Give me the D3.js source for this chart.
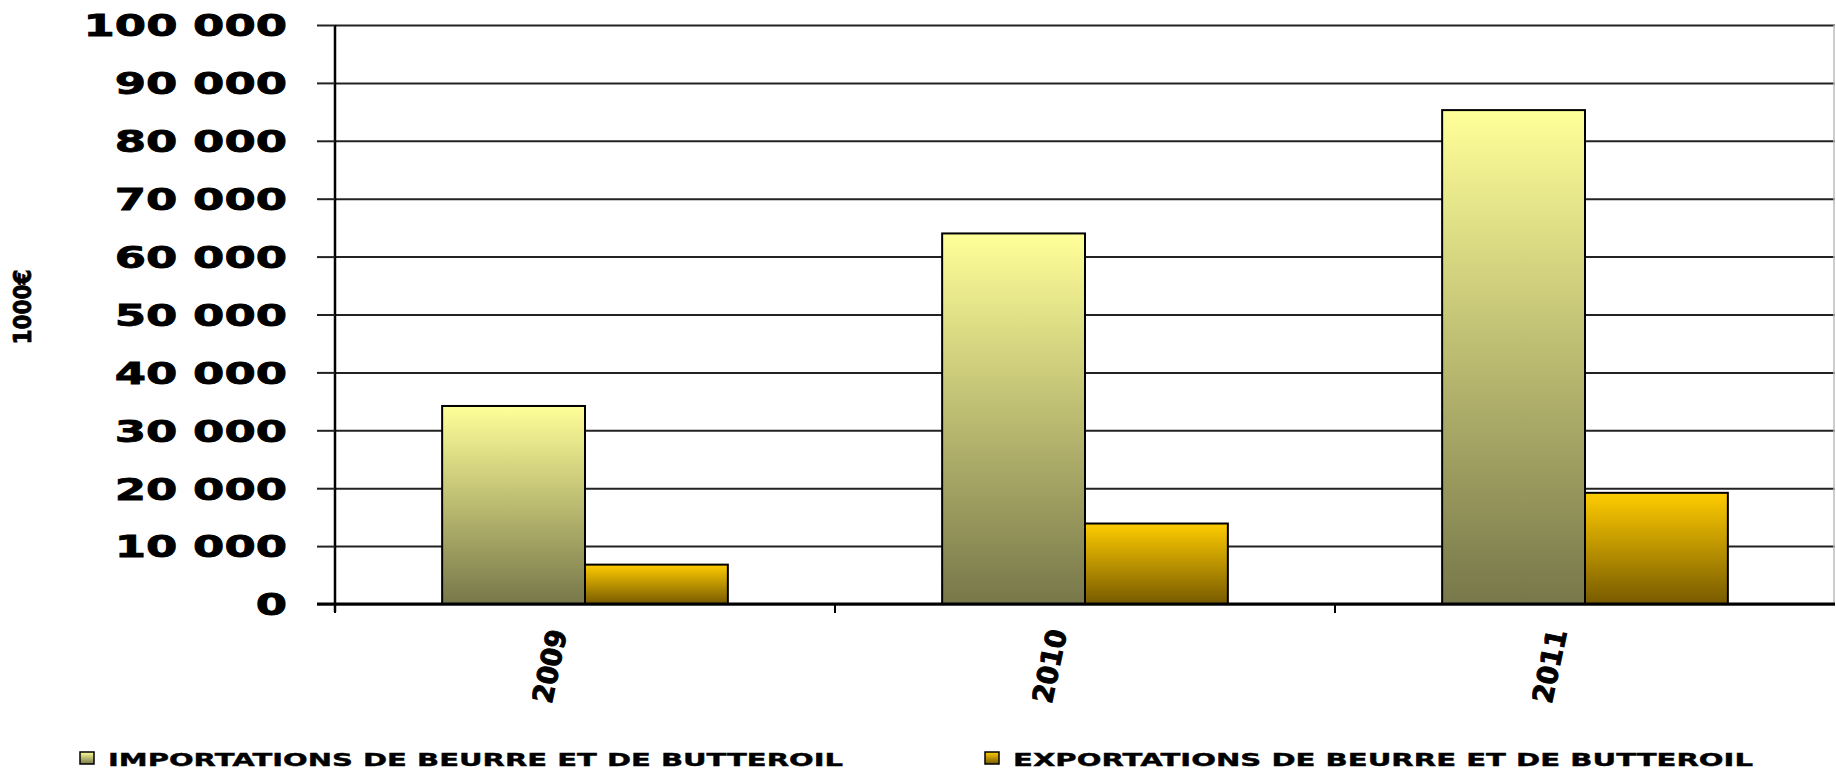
<!DOCTYPE html>
<html>
<head>
<meta charset="utf-8">
<script src="https://cdn.jsdelivr.net/npm/d3@7"></script>
<style>
  body { margin: 0; background: #fff; }
  text { font-family: "DejaVu Sans", sans-serif; font-weight: bold; fill: #000; }
</style>
</head>
<body>
<div id="chart"></div>
<script>
var svgWidth = 1836;
var svgHeight = 771;

// chart data
var years = ["2009", "2010", "2011"];
var seriesNames = ["IMPORTATIONS DE BEURRE ET DE BUTTEROIL", "EXPORTATIONS DE BEURRE ET DE BUTTEROIL"];
var imports = [34200, 64000, 85300];
var exports = [6800, 13900, 19200];
var yTicks = [0, 10000, 20000, 30000, 40000, 50000, 60000, 70000, 80000, 90000, 100000];

var margin = {top: 25, right: 1, bottom: 167, left: 335};
var chartWidth = svgWidth - margin.left - margin.right;
var chartHeight = svgHeight - margin.top - margin.bottom;

var svg = d3.select("#chart").append("svg")
    .attr("width", svgWidth)
    .attr("height", svgHeight);

// gradients
var defs = svg.append("defs");
function gradient(id, top, bottom) {
    var g = defs.append("linearGradient")
        .attr("id", id)
        .attr("x1", 0).attr("y1", 0).attr("x2", 0).attr("y2", 1);
    g.append("stop").attr("offset", "0%").attr("stop-color", top);
    g.append("stop").attr("offset", "100%").attr("stop-color", bottom);
}
gradient("gradImp", "#ffff99", "#77774a");
gradient("gradExp", "#ffcc00", "#775a00");
var fills = ["url(#gradImp)", "url(#gradExp)"];

var chartGroup = svg.append("g")
    .attr("transform", `translate(${margin.left}, ${margin.top})`);

// scales
var xScale = d3.scaleBand()
    .domain(years)
    .range([0, chartWidth])
    .padding(0);

var xInner = d3.scaleBand()
    .domain([0, 1])
    .range([0, xScale.bandwidth()])
    .paddingInner(0)
    .paddingOuter(0.75);

var yScale = d3.scaleLinear()
    .domain([0, 100000])
    .range([chartHeight, 0]);

var fmt = d => d3.format(",")(d).replace(/,/g, " ");

// gridlines
var grid = chartGroup.append("g")
    .call(d3.axisLeft(yScale).tickValues(yTicks).tickSize(-chartWidth).tickFormat(""));
grid.select(".domain").remove();
grid.selectAll("line").attr("stroke", "#222").attr("stroke-width", 2);

// right border
chartGroup.append("line")
    .attr("x1", chartWidth - 1).attr("x2", chartWidth - 1)
    .attr("y1", 0).attr("y2", chartHeight)
    .attr("stroke", "#bbb").attr("stroke-width", 1.5);

// bars
var data = years.map((y, i) => ({year: y, values: [imports[i], exports[i]]}));

var barGroups = chartGroup.append("g").selectAll("g")
    .data(data)
    .enter()
    .append("g")
    .attr("transform", d => `translate(${xScale(d.year)}, 0)`);

barGroups.selectAll("rect")
    .data(d => d.values.map((v, k) => ({k: k, v: v})))
    .enter()
    .append("rect")
    .attr("x", d => xInner(d.k))
    .attr("y", d => yScale(d.v))
    .attr("width", xInner.bandwidth())
    .attr("height", d => chartHeight - yScale(d.v))
    .attr("fill", d => fills[d.k])
    .attr("stroke", "#000")
    .attr("stroke-width", 2);

// y axis
var yAxis = chartGroup.append("g")
    .call(d3.axisLeft(yScale).tickValues(yTicks).tickSize(18).tickPadding(0).tickFormat(fmt));
yAxis.select(".domain")
    .attr("d", `M0,0V${chartHeight + 8}`)
    .attr("stroke", "#000").attr("stroke-width", 2.5);
yAxis.selectAll(".tick line").attr("stroke", "#222").attr("stroke-width", 2);
yAxis.selectAll(".tick text")
    .attr("x", -48 / 1.5)
    .attr("dy", "0.36em")
    .attr("transform", "scale(1.5,1)")
    .style("font-size", "30px")
    .style("font-family", "'DejaVu Sans', sans-serif")
    .style("font-weight", "bold")
    .attr("fill", "#000")
    .attr("stroke", "#000")
    .attr("stroke-width", 0.8);

// x axis
var xAxis = chartGroup.append("g")
    .attr("transform", `translate(0, ${chartHeight})`)
    .call(d3.axisBottom(xScale).tickSize(0).tickFormat(""));
xAxis.select(".domain")
    .attr("d", `M-18,0H${chartWidth}`)
    .attr("stroke", "#000").attr("stroke-width", 3);

chartGroup.append("g").selectAll("line")
    .data(years)
    .enter()
    .append("line")
    .attr("x1", d => xScale(d)).attr("x2", d => xScale(d))
    .attr("y1", chartHeight).attr("y2", chartHeight + 9)
    .attr("stroke", "#000").attr("stroke-width", 2);

chartGroup.append("g").selectAll("text")
    .data(years)
    .enter()
    .append("text")
    .attr("text-anchor", "end")
    .attr("transform", d => `translate(${xScale(d) + xScale.bandwidth() / 2 - 18}, ${chartHeight + 28}) rotate(-78)`)
    .attr("textLength", 74)
    .attr("lengthAdjust", "spacingAndGlyphs")
    .attr("stroke", "#000")
    .attr("stroke-width", 1)
    .style("font-size", "28px")
    .text(d => d);

// y axis title
svg.append("text")
    .attr("transform", "translate(31, 307) rotate(-90)")
    .attr("text-anchor", "middle")
    .attr("textLength", 75)
    .attr("lengthAdjust", "spacingAndGlyphs")
    .attr("stroke", "#000")
    .attr("stroke-width", 0.8)
    .style("font-size", "24px")
    .text("1000€");

// legend
var legendX = [80, 985];
var legend = svg.append("g").selectAll("g")
    .data(seriesNames)
    .enter()
    .append("g")
    .attr("transform", (d, i) => `translate(${legendX[i]}, 752)`);

legend.append("rect")
    .attr("width", 14).attr("height", 12)
    .attr("fill", (d, i) => fills[i])
    .attr("stroke", "#000").attr("stroke-width", 1.5);

legend.append("text")
    .attr("x", 28)
    .attr("y", 13.5)
    .attr("textLength", (d, i) => i === 0 ? 735 : 740)
    .attr("lengthAdjust", "spacingAndGlyphs")
    .attr("stroke", "#000")
    .attr("stroke-width", 0.4)
    .style("font-size", "18.5px")
    .text(d => d);
</script>
</body>
</html>
